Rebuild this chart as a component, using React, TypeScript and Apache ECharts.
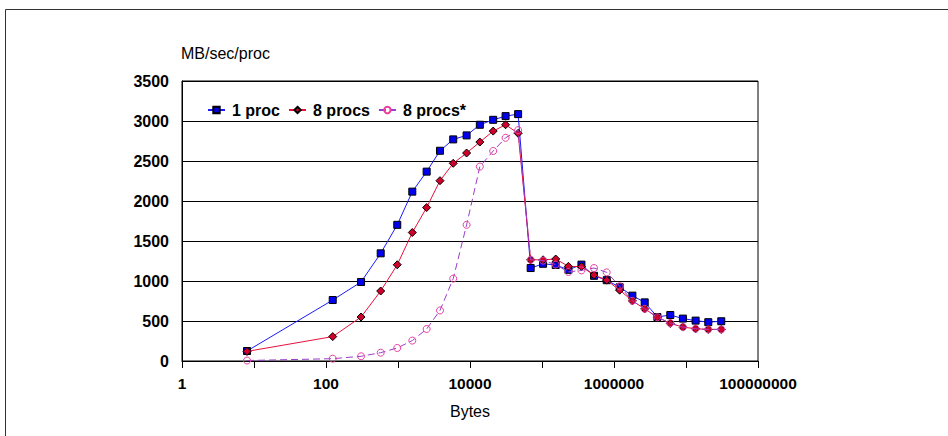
import React, { useEffect, useRef } from "react";
import * as echarts from "echarts";

// Message sizes (bytes)
const bytes = [
  8, 124, 307, 575, 977, 1580, 2500, 3830, 5850, 8970, 13700, 21000, 31200,
  46600, 69600, 103500, 155000, 233000, 353000, 528000, 792000, 1200000,
  1800000, 2670000, 4000000, 6050000, 9060000, 13600000, 20400000, 30900000,
];

// MB/sec/proc
const oneProc = [
  125, 762, 988, 1346, 1702, 2117, 2367, 2628, 2770, 2820, 2953, 3015, 3061,
  3086, 1162, 1215, 1200, 1140, 1205, 1065, 1010, 922, 817, 733, 550, 575, 530,
  505, 485, 497,
];
const eightProcs = [
  120, 305, 550, 875, 1203, 1606, 1918, 2254, 2471, 2600, 2737, 2874, 2953,
  2846, 1265, 1265, 1275, 1183, 1180, 1075, 1010, 885, 752, 652, 547, 470, 424,
  403, 395, 395,
];
const eightProcsStar = [
  6, 29, 59, 104, 163, 255, 400, 632, 1030, 1702, 2430, 2625, 2790, 2886, 1265,
  1255, 1205, 1113, 1133, 1162, 1108, 935, 752, 652, 547, 475, 424, 403, 395,
  395,
];

const seriesNames = ["1 proc", "8 procs", "8 procs*"];
const yAxisTitle = "MB/sec/proc";
const xAxisTitle = "Bytes";

const FONT = "'Liberation Sans', Arial, Helvetica, sans-serif";

export default function App() {
  const ref = useRef<HTMLDivElement>(null);

  useEffect(() => {
    document.body.style.margin = "0";
    const chart = echarts.init(ref.current as HTMLDivElement, null, {
      renderer: "svg",
    });
    const pair = (ys: number[]) => bytes.map((x, i) => [x, ys[i]]);

    chart.setOption({
      animation: false,
      backgroundColor: "#ffffff",
      textStyle: { fontFamily: FONT },
      grid: {
        left: 182,
        right: 190,
        top: 81,
        bottom: 75,
        show: true,
        borderColor: "#000",
        borderWidth: 1,
        backgroundColor: "transparent",
      },
      legend: {
        data: seriesNames,
        left: 202,
        top: 97,
        itemWidth: 17,
        itemHeight: 8,
        itemGap: 8,
        textStyle: {
          fontFamily: FONT,
          fontSize: 16,
          fontWeight: "bold",
          color: "#000",
          padding: [0, 0, 0, 2],
        },
      },
      xAxis: {
        type: "log",
        logBase: 10,
        min: 1,
        max: 100000000,
        splitNumber: 8,
        axisLine: { show: true, lineStyle: { color: "#000", width: 1 } },
        axisTick: { show: true, length: 7, lineStyle: { color: "#000" } },
        minorTick: { show: false },
        splitLine: { show: false },
        axisLabel: {
          margin: 14,
          fontFamily: FONT,
          fontSize: 15.5,
          fontWeight: "bold",
          color: "#000",
          formatter: (v: number) => {
            const e = Math.round(Math.log10(v));
            return e % 2 === 0 ? String(Math.round(Math.pow(10, e))) : "";
          },
        },
      },
      yAxis: {
        type: "value",
        min: 0,
        max: 3500,
        interval: 500,
        axisLine: { show: true, lineStyle: { color: "#000", width: 1 } },
        axisTick: { show: false },
        splitLine: { show: true, lineStyle: { color: "#000", width: 1 } },
        axisLabel: {
          margin: 13,
          fontFamily: FONT,
          fontSize: 16,
          fontWeight: "bold",
          color: "#000",
          formatter: (v: number) => String(Math.round(v)),
        },
      },
      series: [
        {
          name: seriesNames[0],
          type: "line",
          data: pair(oneProc),
          symbol: "rect",
          symbolSize: 7,
          lineStyle: { color: "#1a1aff", width: 1 },
          itemStyle: { color: "#0000ee", borderColor: "#000", borderWidth: 1 },
          z: 2,
        },
        {
          name: seriesNames[1],
          type: "line",
          data: pair(eightProcs),
          symbol: "diamond",
          symbolSize: 8,
          lineStyle: { color: "#e8103c", width: 1 },
          itemStyle: { color: "#d0002c", borderColor: "#000", borderWidth: 1 },
          z: 3,
        },
        {
          name: seriesNames[2],
          type: "line",
          data: pair(eightProcsStar),
          symbol: "circle",
          symbolSize: 7,
          lineStyle: { color: "#9a3cc8", width: 1, type: [7, 4] },
          itemStyle: {
            color: "rgba(255,255,255,0)",
            borderColor: "#e8409e",
            borderWidth: 1,
          },
          z: 4,
        },
      ],
      graphic: [
        {
          type: "rect",
          silent: true,
          shape: { x: 5.5, y: 9.5, width: 1000, height: 1000 },
          style: { fill: "none", stroke: "#333", lineWidth: 1 },
        },
        {
          type: "text",
          x: 181,
          y: 53,
          style: {
            text: yAxisTitle,
            fontFamily: FONT,
            fontSize: 16,
            fill: "#000",
            textAlign: "left",
            textVerticalAlign: "middle",
          },
        },
        {
          type: "text",
          x: 470,
          y: 411,
          style: {
            text: xAxisTitle,
            fontFamily: FONT,
            fontSize: 16,
            fill: "#000",
            textAlign: "center",
            textVerticalAlign: "middle",
          },
        },
      ],
    });

    return () => chart.dispose();
  }, []);

  return <div ref={ref} style={{ width: 948, height: 436 }} />;
}
